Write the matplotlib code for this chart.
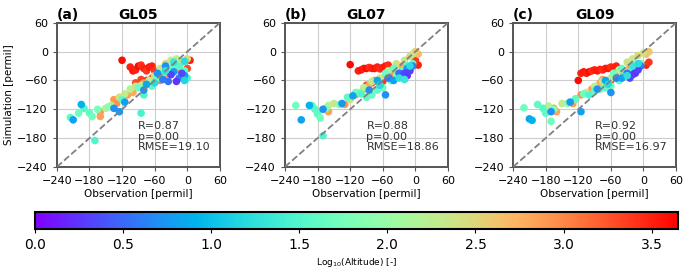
import numpy as np
import matplotlib.pyplot as plt

# (observation, simulation, log10 altitude)
pts_a = [
    (-120, -18, 3.6), (-105, -32, 3.5), (-100, -40, 3.55), (-95, -38, 3.5), (-90, -30, 3.6),
    (-85, -28, 3.45), (-80, -35, 3.5), (-75, -40, 3.4), (-70, -32, 3.55), (-65, -30, 3.5),
    (-60, -40, 3.4), (-95, -65, 3.3), (-85, -58, 3.35), (-75, -60, 3.4), (-65, -55, 3.3),
    (5, -18, 3.5), (0, -35, 3.3), (-55, -60, 3.35),
    (-160, -125, 2.9), (-160, -135, 2.85), (-135, -100, 2.9), (-130, -108, 2.95), (-110, -90, 2.9),
    (-100, -85, 2.8), (-80, -65, 2.9), (-50, -60, 3.0), (-40, -48, 2.9), (-20, -38, 2.85), (-10, -22, 2.9),
    (-150, -118, 2.2), (-140, -112, 2.3), (-125, -95, 2.4), (-115, -88, 2.3), (-105, -78, 2.2),
    (-95, -72, 2.35), (-85, -70, 2.3), (-70, -60, 2.2), (-60, -50, 2.4), (-50, -35, 2.3),
    (-40, -25, 2.5), (-30, -18, 2.3), (-20, -15, 2.2), (-10, -20, 2.4), (0, -15, 2.5),
    (-215, -137, 1.6), (-200, -128, 1.7), (-190, -118, 1.55), (-180, -128, 1.6), (-175, -135, 1.7),
    (-165, -120, 1.8), (-145, -115, 1.9), (-120, -100, 1.6), (-90, -75, 1.7), (-80, -90, 1.5),
    (-85, -128, 1.45), (-170, -185, 1.5), (-65, -72, 1.6), (-55, -55, 1.7), (-45, -45, 1.6),
    (-35, -35, 1.75), (-25, -28, 1.6), (-15, -30, 1.55), (-5, -40, 1.6), (0, -55, 1.5),
    (-210, -142, 0.8), (-195, -110, 0.9), (-135, -118, 0.7), (-125, -125, 0.75), (-115, -105, 0.8),
    (-80, -80, 0.7), (-75, -68, 0.85), (-55, -45, 0.7), (-45, -58, 0.6), (-35, -62, 0.55),
    (-25, -42, 0.75), (-15, -55, 0.6), (-5, -50, 0.8), (-40, -30, 0.7),
    (-30, -48, 0.3), (-20, -62, 0.25), (-10, -45, 0.35),
    (-60, -65, 1.2), (-40, -40, 1.25), (-25, -22, 1.3), (-5, -20, 1.2), (-5, -60, 1.15),
]

pts_b = [
    (-120, -27, 3.6), (-105, -40, 3.5), (-100, -38, 3.55), (-95, -35, 3.5), (-90, -35, 3.6),
    (-85, -33, 3.45), (-80, -35, 3.5), (-75, -35, 3.55), (-70, -32, 3.5), (-65, -36, 3.45),
    (-60, -33, 3.5), (-55, -30, 3.55), (-50, -28, 3.45), (-90, -70, 3.3), (-80, -65, 3.35),
    (-70, -62, 3.3), (-60, -62, 3.4), (5, -28, 3.5), (0, -18, 3.4), (-45, -55, 3.35),
    (-165, -118, 2.9), (-160, -125, 2.85), (-130, -110, 2.9), (-110, -90, 2.95), (-95, -78, 2.9),
    (-85, -70, 2.8), (-75, -60, 2.9), (-55, -50, 3.0), (-40, -42, 2.9), (-25, -30, 2.85),
    (5, -5, 2.7), (0, 0, 2.6),
    (-160, -112, 2.2), (-150, -108, 2.3), (-120, -100, 2.4), (-105, -85, 2.3), (-95, -75, 2.2),
    (-80, -62, 2.35), (-65, -55, 2.3), (-50, -40, 2.2), (-35, -25, 2.4), (-20, -18, 2.3),
    (-10, -10, 2.5), (-5, -5, 2.4),
    (-220, -112, 1.7), (-190, -112, 1.6), (-185, -120, 1.55), (-180, -130, 1.6), (-175, -138, 1.7),
    (-165, -118, 1.8), (-170, -175, 1.5), (-140, -110, 1.9), (-125, -95, 1.6), (-110, -85, 1.7),
    (-100, -88, 1.5), (-90, -95, 1.6), (-80, -90, 1.65), (-70, -80, 1.6), (-60, -75, 1.7),
    (-45, -60, 1.6), (-35, -50, 1.75), (-25, -40, 1.6), (-15, -30, 1.55), (-5, -25, 1.6),
    (-55, -45, 1.7), (-40, -35, 1.65),
    (-210, -142, 0.8), (-195, -112, 0.9), (-170, -120, 0.7), (-135, -108, 0.75), (-115, -92, 0.8),
    (-85, -80, 0.7), (-70, -60, 0.85), (-55, -90, 0.7), (-50, -55, 0.6), (-30, -45, 0.55),
    (-15, -35, 0.75), (-5, -30, 0.6), (-40, -60, 0.8),
    (-20, -45, 0.3), (-15, -50, 0.25), (-25, -52, 0.35), (-10, -40, 0.3),
    (-65, -70, 1.2), (-30, -55, 1.25), (-20, -58, 1.3), (-10, -30, 1.2),
]

pts_c = [
    (-120, -60, 3.6), (-115, -45, 3.5), (-110, -42, 3.55), (-105, -45, 3.5), (-100, -42, 3.6),
    (-95, -40, 3.45), (-90, -38, 3.5), (-85, -40, 3.55), (-80, -37, 3.5), (-75, -38, 3.45),
    (-70, -35, 3.5), (-65, -35, 3.55), (-60, -32, 3.45), (-55, -33, 3.5), (-50, -30, 3.5),
    (-80, -70, 3.3), (-70, -65, 3.35), (-60, -60, 3.3), (5, -28, 3.5), (10, -22, 3.4), (-40, -55, 3.35),
    (-165, -118, 2.9), (-160, -125, 2.85), (-130, -108, 2.9), (-115, -90, 2.95), (-95, -78, 2.9),
    (-80, -65, 2.8), (-75, -58, 2.9), (-55, -50, 3.0), (-40, -40, 2.9), (-25, -32, 2.85),
    (5, -5, 2.7), (10, 0, 2.6),
    (-175, -113, 2.2), (-150, -108, 2.3), (-125, -100, 2.4), (-105, -85, 2.3), (-90, -72, 2.2),
    (-75, -62, 2.35), (-60, -55, 2.3), (-45, -38, 2.2), (-30, -22, 2.4), (-20, -15, 2.3),
    (-10, -8, 2.5), (0, -3, 2.4),
    (-220, -117, 1.7), (-195, -110, 1.6), (-185, -118, 1.55), (-180, -128, 1.6), (-170, -145, 1.7),
    (-165, -120, 1.8), (-140, -108, 1.9), (-125, -98, 1.6), (-110, -88, 1.7), (-100, -90, 1.5),
    (-90, -82, 1.6), (-80, -78, 1.65), (-70, -75, 1.6), (-60, -72, 1.7), (-45, -60, 1.6),
    (-35, -50, 1.75), (-25, -42, 1.6), (-15, -32, 1.55), (-5, -25, 1.6), (-55, -45, 1.7),
    (-40, -35, 1.65),
    (-210, -140, 0.8), (-205, -143, 0.9), (-170, -125, 0.7), (-135, -105, 0.75), (-115, -125, 0.8),
    (-85, -78, 0.7), (-70, -60, 0.85), (-60, -85, 0.7), (-50, -55, 0.6), (-30, -45, 0.55),
    (-15, -38, 0.75), (-5, -30, 0.6), (-40, -55, 0.8),
    (-20, -48, 0.3), (-15, -45, 0.25), (-25, -55, 0.35), (-10, -38, 0.3),
    (-65, -68, 1.2), (-30, -50, 1.25), (-20, -30, 1.3), (-10, -25, 1.2),
]

panels = [("(a)", "GL05", pts_a, "R=0.87\np=0.00\nRMSE=19.10"),
          ("(b)", "GL07", pts_b, "R=0.88\np=0.00\nRMSE=18.86"),
          ("(c)", "GL09", pts_c, "R=0.92\np=0.00\nRMSE=16.97")]
ticks = [-240, -180, -120, -60, 0, 60]
vmin, vmax = 0.0, 3.65

fig = plt.figure(figsize=(6.85, 2.75), dpi=100)
lefts = [0.083, 0.416, 0.749]

for left, (tag, name, pts, stats) in zip(lefts, panels):
    ax = fig.add_axes([left, 0.393, 0.238, 0.524])
    p = np.array(pts)
    sc = ax.scatter(p[:, 0], p[:, 1], c=p[:, 2], cmap='rainbow', vmin=vmin, vmax=vmax,
                    s=30, edgecolors='none', zorder=3)
    ax.plot([-240, 60], [-240, 60], '--', color='gray', lw=1.3, zorder=4)
    ax.set_xlim(-240, 60)
    ax.set_ylim(-240, 60)
    ax.set_xticks(ticks)
    ax.set_yticks(ticks)
    ax.tick_params(labelsize=8, length=3, color='#555555')
    ax.grid(True, color='#cccccc', lw=0.8, zorder=0)
    for sp in ax.spines.values():
        sp.set_color('#555555')
        sp.set_linewidth(1.4)
    ax.set_xlabel('Observation [permil]', fontsize=7.5, labelpad=2)
    if tag == "(a)":
        ax.set_ylabel('Simulation [permil]', fontsize=7.5, labelpad=2)
    ax.text(0.0, 1.03, tag, transform=ax.transAxes, fontsize=10, fontweight='bold', ha='left')
    ax.text(0.5, 1.03, name, transform=ax.transAxes, fontsize=10, fontweight='bold', ha='center')
    ax.text(-90, -145, stats, fontsize=8, va='top', ha='left', linespacing=1.05, color='#333333')

cax = fig.add_axes([0.051, 0.167, 0.939, 0.062])
cb = fig.colorbar(sc, cax=cax, orientation='horizontal')
cb.set_ticks([0.0, 0.5, 1.0, 1.5, 2.0, 2.5, 3.0, 3.5])
cb.ax.tick_params(labelsize=10, length=3)
cb.outline.set_linewidth(1.5)
cb.set_label('Log$_{10}$(Altitude) [-]', fontsize=6.5, labelpad=3)

fig.savefig('out.png', dpi=100)
